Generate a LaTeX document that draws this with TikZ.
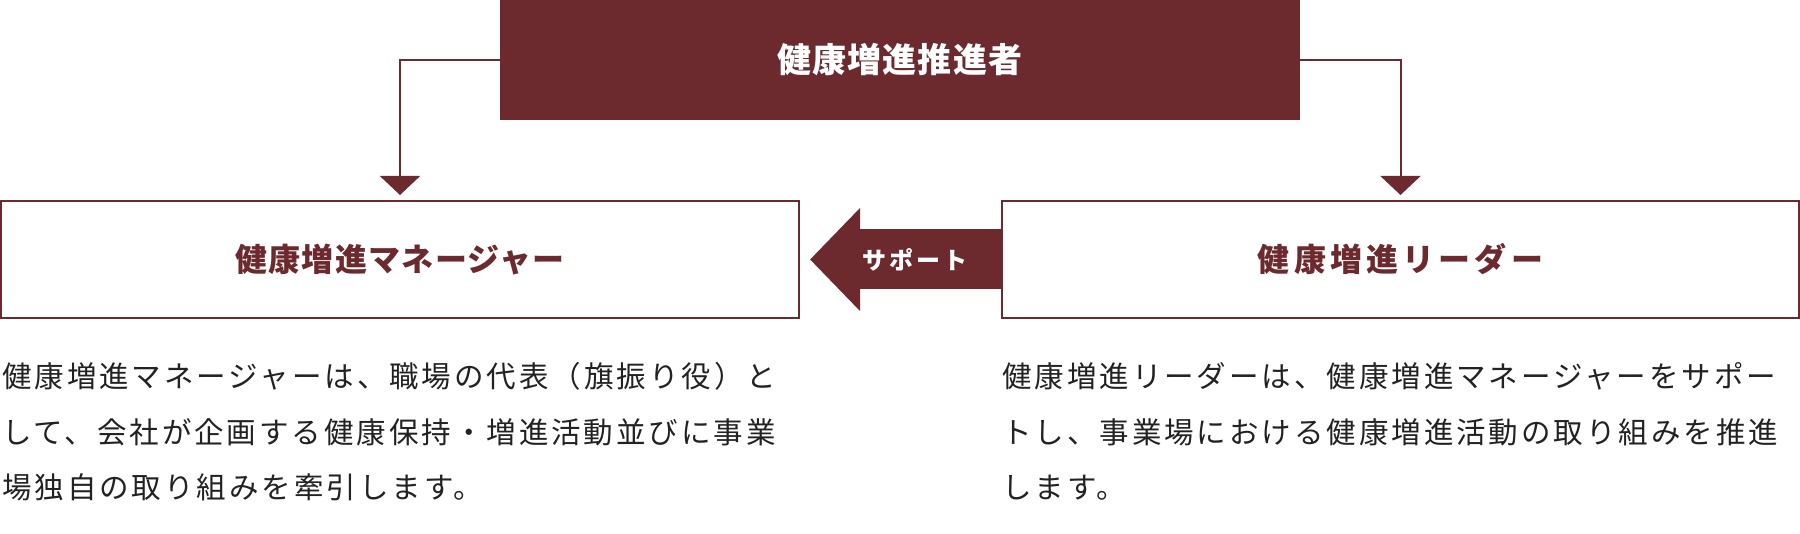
\documentclass[tikz,border=0pt]{standalone}
\usepackage{fontspec}
\usetikzlibrary{arrows.meta}
\newfontfamily\bodyjp{Noto Sans CJK JP}[LetterSpace=10]
\newfontfamily\headjp{Noto Sans CJK JP}[LetterSpace=3]
\newfontfamily\mgrjp{Noto Sans CJK JP}[LetterSpace=4]
\newfontfamily\ldrjp{Noto Sans CJK JP}[LetterSpace=13]
\newfontfamily\supjp{Noto Sans CJK JP}[LetterSpace=12]
\definecolor{maroon}{HTML}{6C2A2E}
\definecolor{bodyink}{HTML}{222222}
\tikzset{
  topbox/.style={fill=maroon, text=white, inner sep=0pt, outer sep=0pt,
    minimum width=800pt, minimum height=120pt,
    font=\headjp\bfseries\fontsize{34pt}{40pt}\selectfont},
  rolebox/.style={draw=maroon, line width=2pt, fill=white, text=maroon, inner sep=0pt,
    minimum height=117pt},
  mgrfont/.style={font=\mgrjp\bfseries\fontsize{32pt}{38pt}\selectfont},
  ldrfont/.style={font=\ldrjp\bfseries\fontsize{32pt}{38pt}\selectfont},
  conn/.style={draw=maroon, line width=2pt, shorten >=5pt,
    -{Triangle[width=40pt,length=19pt]}},
  supportarrow/.style={draw=maroon, line width=60pt, shorten >=10pt,
    -{Triangle[width=100pt,length=50pt]}},
  suplabel/.style={text=white, inner sep=0pt,
    font=\supjp\bfseries\fontsize{24pt}{28pt}\selectfont},
  bodyline/.style={anchor=base west, inner sep=0pt, text=bodyink,
    font=\bodyjp\fontsize{29.5pt}{36pt}\selectfont},
}
\begin{document}
\begin{tikzpicture}[x=1pt,y=-1pt]
\useasboundingbox (0,0) rectangle (1800,534);
\node[topbox] (top) at (900,60) {健康増進推進者};
\node[rolebox, mgrfont, minimum width=798pt] (mgr) at (400,259.5) {健康増進マネージャー};
\node[rolebox, ldrfont, minimum width=797pt] (ldr) at (1400.5,259.5) {健康増進リーダー};
\draw[conn] (top.west) -| (mgr.north);
\draw[conn] (top.east) -| (ldr.north);
\draw[supportarrow] (ldr.west) -- (mgr.east);
\node[suplabel] (sup) at (915,260) {サポート};
\node[bodyline] (m1) at (2,388) {健康増進マネージャーは、職場の代表（旗振り役）と};
\node[bodyline] (m2) at (2,444) {して、会社が企画する健康保持・増進活動並びに事業};
\node[bodyline] (m3) at (2,499) {場独自の取り組みを牽引します。};
\node[bodyline] (l1) at (1002,388) {健康増進リーダーは、健康増進マネージャーをサポー};
\node[bodyline] (l2) at (1002,444) {トし、事業場における健康増進活動の取り組みを推進};
\node[bodyline] (l3) at (1002,499) {します。};
\end{tikzpicture}
\end{document}
